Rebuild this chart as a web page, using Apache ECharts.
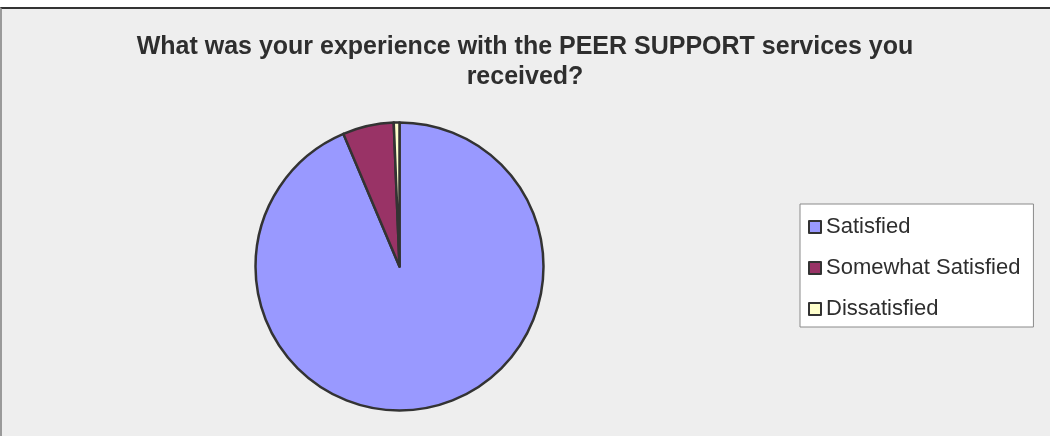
<!DOCTYPE html>
<html>
<head>
<meta charset="utf-8">
<script src="https://cdn.jsdelivr.net/npm/echarts@6/dist/echarts.min.js"></script>
<style>
  html, body { margin: 0; padding: 0; background: #ffffff; }
  #frame {
    position: absolute; left: 0; top: 7px; width: 1048px; height: 427px;
    background: #eeeeee; border-top: 2px solid #333333; border-left: 2px solid #9a9a9a;
  }
  #chart { position: absolute; left: 0; top: 0; width: 1050px; height: 436px; }
</style>
</head>
<body>
<div id="frame"></div>
<div id="chart"></div>
<script>
// Survey responses
const categories = ['Satisfied', 'Somewhat Satisfied', 'Dissatisfied'];
const responses = [147, 9, 1];
const sliceColors = ['#9999ff', '#993366', '#ffffcc'];
const chartTitle = 'What was your experience with the PEER SUPPORT services you\nreceived?';

const chart = echarts.init(document.getElementById('chart'), null, { renderer: 'canvas' });

chart.setOption({
  animation: false,
  backgroundColor: 'transparent',
  title: {
    text: chartTitle,
    left: 'center',
    top: 27,
    textStyle: {
      fontFamily: 'Liberation Sans, Arial, sans-serif',
      fontSize: 25,
      fontWeight: 'bold',
      lineHeight: 30,
      color: '#2e2e2e'
    }
  },
  legend: {
    orient: 'vertical',
    left: 800,
    top: 204,
    padding: [12, 13, 7, 8],
    backgroundColor: '#ffffff',
    borderColor: '#8a8a8a',
    borderWidth: 1,
    borderRadius: 0,
    icon: 'rect',
    itemWidth: 12,
    itemHeight: 12,
    itemGap: 19,
    selectedMode: false,
    itemStyle: { borderColor: '#333333', borderWidth: 2 },
    textStyle: {
      fontFamily: 'Liberation Sans, Arial, sans-serif',
      fontSize: 22,
      lineHeight: 22,
      color: '#2e2e2e',
      padding: [0, 0, 0, 0]
    },
    data: categories
  },
  series: [{
    type: 'pie',
    center: [399.5, 266.5],
    radius: 144,
    startAngle: 90,
    clockwise: true,
    silent: true,
    label: { show: false },
    labelLine: { show: false },
    itemStyle: { borderColor: '#333333', borderWidth: 2.5 },
    data: categories.map((name, i) => ({
      name: name,
      value: responses[i],
      itemStyle: { color: sliceColors[i] }
    }))
  }]
});
</script>
</body>
</html>
